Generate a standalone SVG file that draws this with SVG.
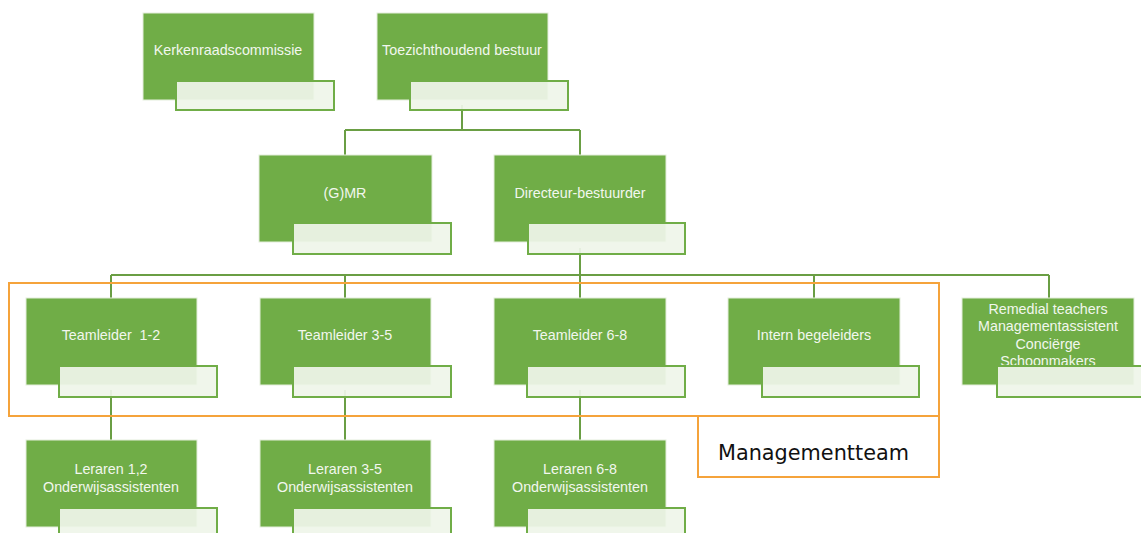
<svg xmlns="http://www.w3.org/2000/svg" width="1141" height="533" viewBox="0 0 1141 533">
<style>
.box{fill:#70AD47;stroke:#e4eedc;stroke-width:1}
.sub{fill:#EFF5EA;fill-opacity:0.93;stroke:#70AD47;stroke-width:2}
.lbl{font-family:"Liberation Sans",Arial,sans-serif;font-size:14.3px;fill:#F2F7EE;text-anchor:middle}
.con{fill:none;stroke:#6A9E44;stroke-width:2}
.mt{fill:none;stroke:#F5A33B;stroke-width:2}
</style>
<rect width="1141" height="533" fill="#ffffff"/>
<g id="connectors">
<path class="con" d="M462 105V130M345 130H580M345 130V155M580 130V155"/>
<path class="con" d="M580 248V275M111 275H1049M111 275V298M345 275V298M580 275V298M814 275V298M1049 275V298"/>
<path class="con" d="M111 390V440M345 390V440M580 390V440"/>
</g>
<g id="n-kerkenraad"><rect class="box" x="143" y="13" width="171" height="87"/><rect class="sub" x="176" y="81" width="158" height="29"/><text class="lbl" x="228" y="55">Kerkenraadscommissie</text></g>
<g id="n-toezicht"><rect class="box" x="377" y="13" width="171" height="87"/><rect class="sub" x="410" y="81" width="158" height="29"/><text class="lbl" x="462" y="55">Toezichthoudend bestuur</text></g>
<g id="n-gmr"><rect class="box" x="259" y="155" width="173" height="87"/><rect class="sub" x="293" y="223" width="158" height="31"/><text class="lbl" x="345" y="198">(G)MR</text></g>
<g id="n-directeur"><rect class="box" x="494" y="155" width="172" height="87"/><rect class="sub" x="528" y="223" width="157" height="31"/><text class="lbl" x="580" y="198">Directeur-bestuurder</text></g>
<g id="n-tl12"><rect class="box" x="26" y="298" width="171" height="87"/><rect class="sub" x="59" y="366" width="158" height="31"/><text class="lbl" x="111" y="340" xml:space="preserve">Teamleider  1-2</text></g>
<g id="n-tl35"><rect class="box" x="260" y="298" width="171" height="87"/><rect class="sub" x="293" y="366" width="158" height="31"/><text class="lbl" x="345" y="340">Teamleider 3-5</text></g>
<g id="n-tl68"><rect class="box" x="494" y="298" width="172" height="87"/><rect class="sub" x="527" y="366" width="158" height="31"/><text class="lbl" x="580" y="340">Teamleider 6-8</text></g>
<g id="n-ib"><rect class="box" x="728" y="298" width="172" height="87"/><rect class="sub" x="762" y="366" width="157" height="31"/><text class="lbl" x="814" y="340">Intern begeleiders</text></g>
<g id="n-remedial"><rect class="box" x="962" y="298" width="172" height="87"/><text class="lbl" x="1048" y="314">Remedial teachers</text><text class="lbl" x="1048" y="331">Managementassistent</text><text class="lbl" x="1048" y="349">Conciërge</text><text class="lbl" x="1048" y="366">Schoonmakers</text><rect class="sub" x="997" y="366" width="158" height="31"/></g>
<g id="n-lr12"><rect class="box" x="26" y="440" width="171" height="87"/><rect class="sub" x="59" y="508" width="158" height="31"/><text class="lbl" x="111" y="474">Leraren 1,2</text><text class="lbl" x="111" y="492">Onderwijsassistenten</text></g>
<g id="n-lr35"><rect class="box" x="260" y="440" width="171" height="87"/><rect class="sub" x="293" y="508" width="158" height="31"/><text class="lbl" x="345" y="474">Leraren 3-5</text><text class="lbl" x="345" y="492">Onderwijsassistenten</text></g>
<g id="n-lr68"><rect class="box" x="494" y="440" width="172" height="87"/><rect class="sub" x="527" y="508" width="158" height="31"/><text class="lbl" x="580" y="474">Leraren 6-8</text><text class="lbl" x="580" y="492">Onderwijsassistenten</text></g>
<g id="managementteam">
<rect class="mt" x="9" y="283" width="930" height="133"/>
<rect class="mt" x="698" y="416" width="241" height="61"/>
<text x="718" y="460" font-family="DejaVu Sans,Verdana,sans-serif" font-size="20.8" fill="#111">Managementteam</text>
</g>
</svg>
